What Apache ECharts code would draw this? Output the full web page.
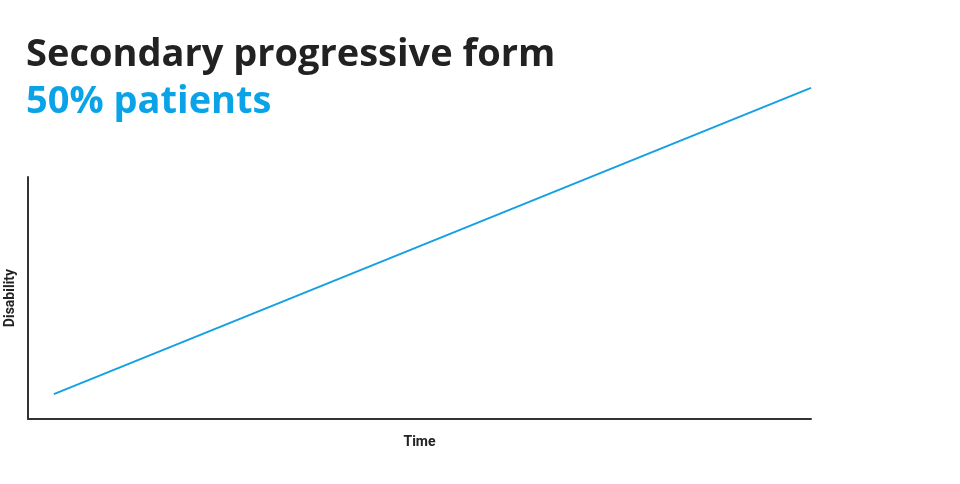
<!DOCTYPE html>
<html><head><meta charset="utf-8">
<script src="https://cdn.jsdelivr.net/npm/echarts@6/dist/echarts.min.js"></script>
<style>html,body{margin:0;padding:0;background:#fff}#c{width:960px;height:484px}</style>
</head><body><div id="c"></div>
<script>
var titleText = 'Secondary progressive form';
var subtitleText = '50% patients';
var xName = 'Time';
var yName = 'Disability';
var timeValues = [3.3, 100];
var disabilityValues = [10.3, 136.8];

var chart = echarts.init(document.getElementById('c'));
chart.setOption({
  animation: false,
  title: {
    text: titleText,
    subtext: subtitleText,
    left: 21, top: 31,
    itemGap: 9,
    textStyle: {fontFamily: 'Open Sans', fontWeight: 'bold', fontSize: 38, color: '#222222'},
    subtextStyle: {fontFamily: 'Open Sans', fontWeight: 'bold', fontSize: 38, color: '#0aa3e8'}
  },
  grid: {left: 28, right: 149, top: 177, bottom: 65, outerBoundsMode: 'none', containLabel: false},
  xAxis: {
    type: 'value', min: 0, max: 100,
    name: xName, nameLocation: 'middle', nameGap: 16,
    nameTextStyle: {fontFamily: 'Roboto', fontWeight: 'bold', fontSize: 14, color: '#222'},
    axisLine: {show: true, lineStyle: {color: '#333', width: 2}},
    axisTick: {show: false}, axisLabel: {show: false}, splitLine: {show: false}
  },
  yAxis: {
    type: 'value', min: 0, max: 100,
    name: yName, nameLocation: 'middle', nameGap: 11,
    nameTextStyle: {fontFamily: 'Roboto', fontWeight: 'bold', fontSize: 14, color: '#222'},
    axisLine: {show: true, lineStyle: {color: '#333', width: 2}},
    axisTick: {show: false}, axisLabel: {show: false}, splitLine: {show: false}
  },
  series: [{
    type: 'line',
    clip: false,
    data: timeValues.map(function(t, i){ return [t, disabilityValues[i]]; }),
    showSymbol: false,
    lineStyle: {color: '#14a0e3', width: 2}
  }]
});
</script></body></html>
